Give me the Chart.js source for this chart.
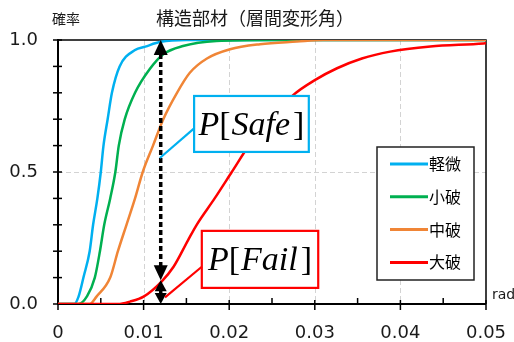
<!DOCTYPE html>
<html><head><meta charset="utf-8">
<script src="https://cdn.jsdelivr.net/npm/chart.js@4/dist/chart.umd.min.js"></script>
<style>html,body{margin:0;padding:0;background:#fff}canvas{display:block}</style>
</head><body>
<canvas id="c" width="514" height="342"></canvas>
<script>
// ---- data ----
const seriesNames = ['軽微', '小破', '中破', '大破'];
const seriesColors = ['#00b0f0', '#00b050', '#f08536', '#ff0000'];

const lightX = [0, 0.0019, 0.0024, 0.0030, 0.0037, 0.0041, 0.0046, 0.0050, 0.0053, 0.0058, 0.0063, 0.0072, 0.0090, 0.0102, 0.0120, 0.0150, 0.050];
const lightP = [0, 0, 0.028, 0.104, 0.20, 0.30, 0.40, 0.50, 0.596, 0.70, 0.80, 0.90, 0.962, 0.975, 0.993, 1.0, 1.0];

const minorX = [0, 0.0024, 0.0034, 0.0043, 0.0049, 0.0054, 0.0061, 0.0067, 0.0071, 0.0078, 0.0090, 0.0107, 0.0123, 0.0146, 0.0185, 0.025, 0.050];
const minorP = [0, 0, 0.03, 0.10, 0.20, 0.30, 0.40, 0.50, 0.60, 0.70, 0.80, 0.889, 0.946, 0.977, 0.996, 1.0, 1.0];

const moderateX = [0, 0.0037, 0.0045, 0.0061, 0.0070, 0.0080, 0.0090, 0.0099, 0.0111, 0.0123, 0.0139, 0.0154, 0.0174, 0.0201, 0.0236, 0.0279, 0.031, 0.050];
const moderateP = [0, 0, 0.028, 0.10, 0.20, 0.30, 0.40, 0.50, 0.60, 0.70, 0.80, 0.876, 0.930, 0.965, 0.984, 0.994, 1.0, 1.0];

const severeX = [0, 0.0070, 0.0084, 0.0100, 0.0121, 0.0135, 0.0152, 0.0162, 0.0183, 0.0203, 0.0224, 0.0242, 0.0275, 0.0300, 0.0326, 0.0355, 0.0388, 0.0435, 0.0497, 0.050];
const severeP = [0, 0, 0.009, 0.028, 0.085, 0.141, 0.242, 0.30, 0.40, 0.50, 0.605, 0.678, 0.792, 0.848, 0.893, 0.93, 0.956, 0.975, 0.987, 0.988];

const xTickValues = [0, 0.01, 0.02, 0.03, 0.04, 0.05];
const xTickLabels = ['0', '0.01', '0.02', '0.03', '0.04', '0.05'];
const yTickValues = [0, 0.5, 1.0];
const yTickLabels = ['0.0', '0.5', '1.0'];

const chartTitle = '構造部材（層間変形角）';
const yAxisTitle = '確率';
const xAxisUnit = 'rad';

// arrow position and probability of failure at it
const arrowX = 0.012;
const arrowPFail = 0.09;

// ---- chart ----
const seriesX = [lightX, minorX, moderateX, severeX];
const seriesP = [lightP, minorP, moderateP, severeP];

const datasets = seriesNames.map((name, i) => ({
  label: name,
  data: seriesX[i].map((x, j) => ({ x: x, y: seriesP[i][j] })),
  borderColor: seriesColors[i],
  backgroundColor: seriesColors[i],
  borderWidth: 2.5,
  pointRadius: 0,
  showLine: true,
  fill: false,
  cubicInterpolationMode: 'monotone',
  order: 4 - i
}));

const JP = '"Noto Sans CJK JP", "Noto Sans", sans-serif';
const NUM = '"DejaVu Sans", sans-serif';

function arrowHead(ctx, x, tipY, dir, halfW, h) {
  ctx.beginPath();
  ctx.moveTo(x, tipY);
  ctx.lineTo(x - halfW, tipY - dir * h);
  ctx.lineTo(x + halfW, tipY - dir * h);
  ctx.closePath();
  ctx.fill();
}

function dashed(ctx, x, y1, y2) {
  ctx.save();
  ctx.setLineDash([5, 3]);
  ctx.lineWidth = 3.5;
  ctx.beginPath();
  ctx.moveTo(x, y1);
  ctx.lineTo(x, y2);
  ctx.stroke();
  ctx.restore();
}

function drawLabelBox(ctx, xs, ys, main, color, tx, ty) {
  const left = xs[0], right = xs[1], top = ys[0], bottom = ys[1];
  ctx.save();
  ctx.fillStyle = '#fff';
  ctx.fillRect(left, top, right - left, bottom - top);
  ctx.strokeStyle = color;
  ctx.lineWidth = 2.2;
  ctx.strokeRect(left, top, right - left, bottom - top);
  ctx.beginPath();
  ctx.moveTo(left, ys[2]);
  ctx.lineTo(tx, ty);
  ctx.stroke();
  const it = 'italic 34px "Liberation Serif", "DejaVu Serif", serif';
  const up = '34px "Liberation Serif", "DejaVu Serif", serif';
  const parts = [['P', it, 0], ['[', up, 1], [main, it, 3], [']', up, 0]];
  let w = 0;
  parts.forEach(p => { ctx.font = p[1]; w += ctx.measureText(p[0]).width + p[2]; });
  let x = (left + right) / 2 - w / 2;
  const y = (top + bottom) / 2 + 11;
  ctx.fillStyle = '#000';
  ctx.textBaseline = 'alphabetic';
  ctx.textAlign = 'left';
  parts.forEach(p => { ctx.font = p[1]; ctx.fillText(p[0], x, y); x += ctx.measureText(p[0]).width + p[2]; });
  ctx.restore();
}

const decor = {
  id: 'decor',
  beforeDatasetsDraw(chart) {
    const { ctx, chartArea: a, scales: { x, y } } = chart;
    ctx.save();
    ctx.strokeStyle = '#d3d3d3';
    ctx.lineWidth = 1;
    ctx.setLineDash([5, 3]);
    [0.01, 0.02, 0.03, 0.04].forEach(v => {
      const px = Math.round(x.getPixelForValue(v)) + 0.5;
      ctx.beginPath(); ctx.moveTo(px, a.top); ctx.lineTo(px, a.bottom); ctx.stroke();
    });
    const py = Math.round(y.getPixelForValue(0.5)) + 0.5;
    ctx.beginPath(); ctx.moveTo(a.left, py); ctx.lineTo(a.right, py); ctx.stroke();
    ctx.setLineDash([]);
    ctx.strokeStyle = '#000';
    ctx.lineWidth = 1.5;
    ctx.beginPath(); ctx.moveTo(a.left, a.top); ctx.lineTo(a.right, a.top); ctx.lineTo(a.right, a.bottom); ctx.stroke();
    ctx.lineWidth = 2;
    ctx.beginPath(); ctx.moveTo(a.left, a.top - 1); ctx.lineTo(a.left, a.bottom); ctx.lineTo(a.right, a.bottom); ctx.stroke();
    ctx.lineWidth = 1.5;
    for (let k = 0; k <= 10; k++) {
      const v = k * 0.005;
      const px = x.getPixelForValue(v);
      ctx.beginPath();
      if (k % 2 === 0) { ctx.moveTo(px, a.bottom - 4); ctx.lineTo(px, a.bottom + 6); }
      else { ctx.moveTo(px, a.bottom - 6); ctx.lineTo(px, a.bottom); }
      ctx.stroke();
    }
    for (let k = 0; k <= 10; k++) {
      const py2 = y.getPixelForValue(k / 10);
      ctx.beginPath(); ctx.moveTo(a.left - 5, py2); ctx.lineTo(a.left + 4, py2); ctx.stroke();
    }
    ctx.restore();
  },
  afterDatasetsDraw(chart) {
    const { ctx, chartArea: a, scales: { x, y } } = chart;
    ctx.save();
    ctx.fillStyle = '#1a1a1a';
    ctx.textAlign = 'center';
    ctx.textBaseline = 'middle';
    ctx.font = '18px ' + JP;
    ctx.fillText(chartTitle, chart.width / 2 - 2, 18);
    ctx.textAlign = 'left';
    ctx.font = '14px ' + JP;
    ctx.fillText(yAxisTitle, 52, 19);
    ctx.font = '14px ' + NUM;
    ctx.fillText(xAxisUnit, a.right + 6, a.bottom - 9);

    const ax = x.getPixelForValue(arrowX);
    const yTop = y.getPixelForValue(1);
    const yF = y.getPixelForValue(arrowPFail);
    const y0 = y.getPixelForValue(0);
    ctx.fillStyle = '#000';
    ctx.strokeStyle = '#000';
    arrowHead(ctx, ax, yTop, -1, 7, 15);
    arrowHead(ctx, ax, yF, 1, 7, 15);
    dashed(ctx, ax, yTop + 14, yF - 14);
    arrowHead(ctx, ax, yF, -1, 6, 11);
    arrowHead(ctx, ax, y0, 1, 6, 11);
    dashed(ctx, ax, yF + 10, y0 - 10);

    drawLabelBox(ctx,
      [x.getPixelForValue(0.0159), x.getPixelForValue(0.0293)],
      [y.getPixelForValue(0.788), y.getPixelForValue(0.576), y.getPixelForValue(0.665)],
      'Safe', seriesColors[0], x.getPixelForValue(0.0119), y.getPixelForValue(0.553));
    drawLabelBox(ctx,
      [x.getPixelForValue(0.0168), x.getPixelForValue(0.0304)],
      [y.getPixelForValue(0.277), y.getPixelForValue(0.061), y.getPixelForValue(0.141)],
      'Fail', seriesColors[3], x.getPixelForValue(0.0125), y.getPixelForValue(0.025));

    const lw = 97, lh = 133;
    const lx = a.right - 12 - lw, ly = y.getPixelForValue(0.5) - 25;
    ctx.fillStyle = '#fff';
    ctx.fillRect(lx, ly, lw, lh);
    ctx.strokeStyle = '#222';
    ctx.lineWidth = 1.5;
    ctx.strokeRect(lx, ly, lw, lh);
    chart.data.datasets.forEach((ds, i) => {
      const cy = ly + 17 + i * 32.8;
      ctx.strokeStyle = ds.borderColor;
      ctx.lineWidth = 3;
      ctx.beginPath(); ctx.moveTo(lx + 13, cy); ctx.lineTo(lx + 51, cy); ctx.stroke();
      ctx.fillStyle = '#000';
      ctx.font = '16px ' + JP;
      ctx.textAlign = 'left';
      ctx.textBaseline = 'middle';
      ctx.fillText(ds.label, lx + 52, cy);
    });
    ctx.restore();
  }
};

new Chart(document.getElementById('c'), {
  type: 'scatter',
  data: { datasets: datasets },
  options: {
    responsive: false,
    animation: false,
    devicePixelRatio: 1,
    layout: { padding: { top: 40, right: 28, left: 0, bottom: 0 } },
    plugins: { legend: { display: false }, title: { display: false }, tooltip: { enabled: false } },
    scales: {
      x: {
        type: 'linear', min: 0, max: 0.05,
        afterBuildTicks: s => { s.ticks = xTickValues.map(v => ({ value: v })); },
        afterFit: s => { s.height = 38; s.paddingLeft = 0; s.paddingRight = 0; },
        ticks: {
          autoSkip: false, maxRotation: 0, padding: 19, color: '#1a1a1a',
          font: { family: NUM, size: 18 },
          callback: (v, i) => xTickLabels[i]
        },
        grid: { display: true, drawOnChartArea: false, drawTicks: false, color: 'rgba(0,0,0,0)' },
        border: { display: false }
      },
      y: {
        type: 'linear', min: 0, max: 1,
        afterBuildTicks: s => { s.ticks = yTickValues.map(v => ({ value: v })); },
        afterFit: s => { s.width = 58; s.paddingTop = 0; s.paddingBottom = 0; },
        ticks: {
          autoSkip: false, padding: 20, color: '#1a1a1a',
          font: { family: NUM, size: 18 },
          callback: (v, i) => yTickLabels[i]
        },
        grid: { display: true, drawOnChartArea: false, drawTicks: false, color: 'rgba(0,0,0,0)' },
        border: { display: false }
      }
    }
  },
  plugins: [decor]
});
</script>
</body></html>
